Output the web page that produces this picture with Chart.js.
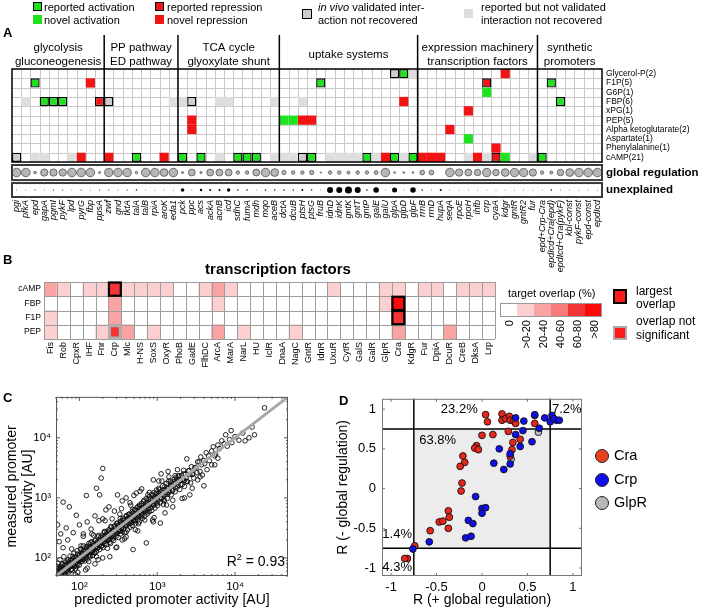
<!DOCTYPE html>
<html><head><meta charset="utf-8">
<script src="https://cdn.jsdelivr.net/npm/chart.js@4.4.1/dist/chart.umd.min.js"></script>
<style>
html,body{margin:0;padding:0;background:#fff;}
body{width:709px;height:611px;position:relative;overflow:hidden;font-family:'Liberation Sans',Arial,sans-serif;color:#000;}
canvas{position:absolute;}
.t{position:absolute;white-space:nowrap;line-height:12px;font-size:11px;}
.sq{position:absolute;box-sizing:border-box;}
.b{font-weight:bold;}
</style></head><body>
<script>
// ---------------- DATA ----------------
// Panel A
const genes = ['pgi','pfkA','epd','gapA','pgmI','pykF','lpd','pyrG','fbp','ppsA',
  'zwf','gnd','tktA','talA','talB','rpiA','aroK','eda1',
  'pck','ppc','acs','ackA','acnB','icd','sdhC','fumA','mdh','mqo','aceB',
  'dctA','dcuB','ptsH','ptsG','fruB','idnD','idnK','gntK','gntT','gntP','galE','galU','glpA','glpD','glpF',
  'rrnB','rrnD','hupA','seqA','rpoE','rpoH','ihfb','crp','cyaA','kdgr','gntR','gntR2','fur',
  'epd+Crp-Cra','epdIcd+Cra(epd)','epdIcd+Cra(pykF)','kbl-const','pykF-const','epd-const','epdIcd'];
const sectionNames = [['glycolysis','gluconeogenesis'],['PP pathway','ED pathway'],['TCA cycle','glyoxylate shunt'],['uptake systems'],['expression machinery','transcription factors'],['synthetic','promoters']];
const sectionSizes = [10, 8, 11, 15, 13, 7];
const metabolites = ['Glycerol-P(2)','F1P(5)','G6P(1)','FBP(6)','xPG(1)','PEP(5)','Alpha ketoglutarate(2)','Aspartate(1)','Phenylalanine(1)','cAMP(21)'];
const summaryRows = ['global regulation','unexplained'];
// [metabolite row, gene]
const reportedActivation = [[1,'epd'],[3,'gapA'],[3,'pgmI'],[3,'pykF'],[9,'talA'],[9,'pck'],[9,'acs'],[9,'sdhC'],[9,'fumA'],[9,'mdh'],[9,'ptsG'],[1,'fruB'],[9,'gntP'],[0,'glpD'],[9,'glpA'],[9,'glpF'],[1,'epdIcd+Cra(epd)'],[3,'epdIcd+Cra(pykF)'],[9,'epd+Crp-Cra']];
const novelActivation = [[5,'dctA'],[5,'dcuB'],[2,'crp'],[7,'rpoH'],[9,'kdgr']];
const reportedRepression = [[3,'ppsA'],[1,'crp'],[9,'cyaA']];
const novelRepression = [[1,'fbp'],[9,'pyrG'],[9,'zwf'],[9,'aroK'],[5,'ppc'],[6,'ppc'],[5,'ptsH'],[5,'ptsG'],[3,'glpD'],[9,'galU'],[9,'rrnB'],[9,'rrnD'],[9,'hupA'],[6,'seqA'],[4,'rpoH'],[9,'ihfb'],[8,'cyaA'],[0,'kdgr']];
const validatedNotRecovered = [[3,'zwf'],[3,'ppc'],[9,'pgi'],[9,'ptsH'],[0,'glpA']];
const reportedNotValidated = [[3,'pfkA'],[3,'eda1'],[3,'pck'],[3,'acnB'],[3,'icd'],[3,'aceB'],[3,'ptsH'],[9,'epd'],[9,'gapA'],[9,'lpd'],[9,'acnB'],[9,'aceB'],[9,'dctA'],[9,'dcuB'],[9,'idnD'],[9,'idnK'],[9,'gntK'],[9,'gntT'],[9,'galE'],[9,'glpD'],[0,'glpF'],[9,'rpoH'],[9,'crp'],[9,'fur']];
// relative size of global regulation contribution (0-1)
const globalRegulation = [1,1,.3,.85,.85,.85,1,1,1,.25, .95,1,.95,.3,1,1,.9,1, .25,.8,.25,.8,.8,.8,.4,.4,.8,1,.9, .5,.4,.4,.5,.15,.4,.4,.35,.4,.4,.45,1,.2,.2,.2, .55,.55,0,1,.85,.8,.75,.95,.75,.9,.95,.95,.85, .4,.35,.75,.9,1,1,1];
// unexplained part (relative dot size)
const unexplained = [.8,.8,1.2,.8,1.2,1.2,.8,1.2,.8,1.2, 1.2,.8,1.2,1.5,.8,.8,.8,.8, 3.5,.8,2.5,2,2,3.5,1.5,1.5,.8,1.5,1.5, 1.5,1.5,2,1.5,.8,6,6,7,6,1.5,5.5,.8,5,.8,5.5, 1.5,.8,2,.8,.8,.8,.8,.8,.8,.8,.8,.8,.8, .8,1.5,.8,.8,.8,.8,.8];

// Panel B
const tfs = ['Fis','Rob','CpxR','IHF','Fnr','Crp','Mlc','H-NS','SoxS','OxyR','PhoB','GadE','FlhDC','ArcA','MarA','NarL','HU','IclR','DnaA','NagC','GntR','IdnR','UxuR','CytR','GalS','GalR','GlpR','Cra','KdgR','Fur','DpiA','DcuR','CreB','DksA','Lrp'];
const tfRows = ['cAMP','FBP','F1P','PEP'];
// overlap class: 0 = 0, 1 = >0-20, 2 = 20-40, 3 = 40-60, 4 = 60-80, 5 = >80
const overlapCAMP = [2,1,0,1,1,4,1,1,1,1,0,0,1,2,1,0,0,0,0,0,0,0,1,0,0,0,1,1,0,1,1,0,1,1,1];
const overlapFBP  = [0,0,0,0,0,2,0,0,0,0,0,0,0,1,0,0,0,0,0,0,0,0,0,0,0,0,1,5,0,0,0,0,0,0,0];
const overlapF1P  = [1,0,0,0,0,2,0,0,0,0,0,0,0,0,0,0,0,0,0,0,0,0,0,0,0,0,0,4,0,0,0,0,0,0,0];
const overlapPEP  = [1,0,0,0,1,4,2,0,1,0,0,0,0,2,0,1,0,0,0,1,0,0,0,0,0,0,0,2,0,0,0,2,0,0,0];
const largestOverlap = [['cAMP','Crp'],['FBP','Cra'],['F1P','Cra']];
const overlapNotSignificant = [['PEP','Crp']];
const overlapClasses = ['0','>0-20','20-40','40-60','60-80','>80'];

// Panel C  [log10 predicted, log10 measured]
const promoterLog10 = [
[1.70,1.71],[1.70,1.78],[1.71,1.74],[1.71,1.86],[1.72,1.70],[1.72,1.80],[1.73,1.76],[1.73,1.91],[1.74,1.72],[1.74,1.83],[1.75,1.78],[1.75,1.97],[1.76,1.74],[1.76,1.86],[1.77,1.71],[1.77,1.81],[1.78,1.90],[1.78,1.76],[1.79,1.84],[1.79,1.73],[1.80,2.02],[1.80,1.79],[1.81,1.87],[1.81,1.74],[1.82,1.82],[1.82,1.93],
[1.83,1.78],[1.84,1.89],[1.84,1.80],[1.85,1.97],[1.86,1.84],[1.86,1.76],[1.87,1.92],[1.88,1.86],[1.88,2.03],[1.89,1.81],[1.90,1.95],[1.90,1.87],[1.91,1.79],[1.92,1.99],[1.92,1.90],[1.93,2.08],[1.94,1.86],[1.94,1.96],[1.95,1.82],[1.96,2.01],[1.96,1.93],[1.97,2.12],[1.98,1.89],[1.98,1.99],[1.99,1.95],[2.00,2.05],[2.00,1.88],[2.01,1.97],[2.02,2.15],[2.02,2.03],[2.03,1.94],[2.04,2.08],[2.05,1.99],[2.05,2.20],[2.06,2.04],[2.07,1.95],[2.07,2.11],[2.08,2.01],[2.09,2.16],[2.09,2.07],[2.10,1.98],[2.11,2.13],[2.12,2.05],[2.12,2.24],[2.13,2.10],[2.14,2.02],[2.14,2.18],[2.15,2.09],[2.16,2.27],[2.17,2.12],[2.17,2.04],[2.18,2.20],[2.19,2.15],[2.20,2.08],[2.20,2.29],[2.21,2.18],[2.22,2.11],[2.23,2.25],[2.23,2.17],[2.24,2.35],[2.25,2.21],[2.26,2.14],[2.26,2.28],[2.27,2.23],[2.28,2.19],[2.29,2.38],[2.29,2.26],[2.30,2.17],[2.31,2.33],[2.32,2.27],[2.32,2.44],[2.33,2.24],[2.34,2.31],[2.35,2.40],[2.35,2.22],[2.36,2.36],[2.37,2.30],[2.38,2.47],[2.38,2.33],[2.39,2.26],[2.40,2.42],[2.41,2.36],[2.41,2.51],[2.42,2.31],[2.43,2.45],[2.44,2.38],[2.44,2.29],[2.45,2.53],[2.46,2.43],[2.47,2.36],[2.47,2.49],[2.48,2.41],[2.49,2.58],[2.50,2.45],[2.50,2.34],[2.51,2.52],[2.52,2.47],[2.53,2.40],[2.53,2.61],[2.54,2.50],[2.55,2.44],[2.56,2.57],[2.56,2.66],[2.57,2.49],[2.58,2.42],[2.59,2.60],[2.59,2.53],[2.60,2.69],[2.61,2.55],[2.62,2.47],[2.62,2.64],[2.63,2.58],[2.64,2.73],[2.65,2.51],[2.65,2.62],[2.66,2.68],[2.67,2.59],[2.68,2.77],[2.68,2.54],[2.69,2.66],[2.70,2.62],[2.71,2.80],[2.71,2.70],[2.72,2.57],[2.73,2.67],[2.74,2.84],[2.74,2.75],[2.75,2.63],[2.76,2.71],[2.77,2.88],[2.77,2.60],[2.78,2.78],[2.79,2.69],[2.80,2.91],[2.80,2.74],[2.81,2.66],[2.82,2.83],[2.83,2.77],[2.83,2.96],[2.84,2.70],[2.85,2.86],[2.86,2.79],[2.86,2.99],[2.87,2.73],[2.88,2.90],[2.89,2.82],[2.90,2.77],[2.90,3.02],[2.91,2.93],[2.92,2.84],[2.93,3.06],[2.93,2.79],[2.94,2.97],[2.95,2.88],[2.96,3.09],[2.97,2.83],[2.97,2.99],[2.98,2.92],[2.99,3.13],[3.00,2.87],[3.00,3.03],[3.01,2.95],[3.02,3.16],[3.03,3.06],[3.04,2.92],[3.05,3.10],[3.06,2.99],[3.07,3.20],[3.08,3.04],[3.09,2.95],[3.10,3.14],[3.11,3.06],[3.12,3.24],[3.13,2.99],[3.14,3.17],[3.15,3.09],[3.17,3.28],[3.18,3.05],[3.19,3.21],[3.20,3.13],[3.22,3.31],[3.23,3.10],[3.24,3.25],[3.26,3.18],[3.27,3.36],[3.29,3.14],[3.30,3.29],[3.32,3.22],[3.34,3.40],[3.35,3.19],[3.37,3.33],[3.39,3.27],[3.41,3.45],[3.43,3.25],[3.45,3.39],[3.47,3.33],[3.50,3.51],[3.52,3.30],[3.55,3.44],[3.58,3.38],[3.61,3.57],[3.64,3.47],[3.67,3.62],[3.70,3.55],[3.74,3.70],[3.78,3.66],
[1.705,1.745],[1.715,1.665],[1.725,1.815],[1.735,1.745],[1.745,1.665],[1.755,1.815],[1.765,1.745],[1.775,1.895],[1.785,1.725],[1.795,1.825],[1.805,1.705],[1.815,1.885],[1.825,1.825],[1.835,1.795],[1.845,1.945],[1.855,1.785],[1.865,1.915],[1.875,1.865],[1.885,1.965],[1.895,1.805],[1.905,1.925],[1.915,2.025],[1.925,1.895],[1.935,1.875],[1.945,2.005],[1.955,1.965],[1.965,1.855],[1.975,2.065],[1.985,1.965],[1.995,2.035],[2.005,1.935],[2.015,2.145],[2.025,1.985],[2.035,2.065],[2.045,2.115],[2.055,1.975],[2.065,2.065],[2.075,2.125],[2.085,2.035],[2.095,2.195],
[2.105,2.095],[2.115,2.195],[2.125,2.035],[2.135,2.155],[2.145,2.255],[2.155,2.125],[2.165,2.105],[2.175,2.235],[2.185,2.195],[2.195,2.085],[2.205,2.295],[2.215,2.195],[2.225,2.265],[2.235,2.165],[2.245,2.375],[2.255,2.215],[2.265,2.295],[2.275,2.345],[2.285,2.205],[2.295,2.295],[2.305,2.355],[2.315,2.265],[2.325,2.425],[2.335,2.375],[2.345,2.295],[2.355,2.445],[2.365,2.375],[2.375,2.295],[2.385,2.445],[2.395,2.375],[2.405,2.525],[2.415,2.355],[2.425,2.455],[2.435,2.335],[2.445,2.515],[2.455,2.455],[2.465,2.425],[2.475,2.575],[2.485,2.415],[2.495,2.545],
[2.505,2.545],[2.515,2.445],[2.525,2.655],[2.535,2.495],[2.545,2.575],[2.555,2.625],[2.565,2.485],[2.575,2.575],[2.585,2.635],[2.595,2.545],[2.605,2.705],[2.615,2.655],[2.625,2.575],[2.635,2.725],[2.645,2.655],[2.655,2.575],[2.665,2.725],[2.675,2.655],[2.685,2.805],[2.695,2.635],[2.705,2.735],[2.715,2.615],[2.725,2.795],[2.735,2.735],[2.745,2.705],[2.755,2.855],[2.765,2.695],[2.775,2.825],[2.785,2.775],[2.795,2.875],[2.805,2.715],[2.815,2.835],[2.825,2.935],[2.835,2.805],[2.845,2.785],[2.855,2.915],[2.865,2.875],[2.875,2.765],[2.885,2.975],[2.895,2.875],
[2.907,2.977],[2.919,2.919],[2.931,2.891],[2.943,3.043],[2.955,2.885],[2.967,3.017],[2.979,2.969],[2.991,3.071],[3.003,2.913],[3.015,3.035],[3.027,3.137],[3.039,3.009],[3.051,2.991],[3.063,3.123],[3.075,3.085],[3.087,2.977],[3.099,3.189],[3.111,3.091],[3.123,3.163],[3.135,3.065],[3.147,3.277],[3.159,3.119],[3.171,3.201],[3.183,3.253],[3.195,3.115],[3.207,3.207],[3.219,3.269],[3.231,3.181],[3.243,3.343],[3.255,3.295],[3.267,3.217],[3.279,3.369],[3.291,3.301],[3.303,3.223],[3.315,3.375],[3.327,3.307],[3.339,3.459],[3.351,3.291],[3.363,3.393],[3.375,3.275],
[3.40,3.45],[3.42,3.39],[3.44,3.52],[3.46,3.40],[3.48,3.50],[3.51,3.42],[3.54,3.60],[3.57,3.55],
[1.90,2.15],[1.98,1.76],[2.05,2.36],[2.12,1.94],[2.18,2.38],[2.24,1.97],[2.30,2.65],[2.36,2.16],[2.42,2.65],[2.48,2.18],[2.54,2.82],[2.60,2.43],[2.66,2.88],[2.72,2.47],[2.78,3.11],[2.84,2.63],[2.90,3.09],[2.96,2.67],[3.02,3.28],[3.08,2.89],[3.14,3.44],[3.20,2.96],[3.26,3.47],[3.32,2.99],[3.38,3.65],
[1.95,1.72],[2.02,2.20],[2.08,1.80],[2.16,2.40],[2.22,2.02],[2.33,2.62],[2.40,2.24],[2.52,2.73],[2.58,2.32],[2.70,3.04],[2.76,2.57],[2.88,3.05],[2.94,2.63],[3.06,3.28],[3.12,2.88],
[3.52,3.60],[3.56,3.68],[3.60,3.62],[3.63,3.75],[3.66,3.70],[3.70,3.78],[3.72,3.85],[3.75,3.73],[3.78,3.88],[3.80,3.82],[3.83,3.95],[3.86,3.90],[3.88,4.05],[3.90,3.86],[3.93,3.97],[3.96,3.92],[4.00,4.02],[4.05,3.96],[4.10,4.08],[4.13,3.95],[4.18,4.00],[4.22,4.18],[4.25,4.05],[4.38,4.50],[3.95,4.12],[3.74,3.55],
[1.79,2.93],[1.87,2.85],[1.96,2.71],[2.09,3.04],[2.22,3.16],[2.26,3.05],[2.28,3.33],[2.30,3.49],[2.34,2.80],[1.83,2.50],[1.72,2.55],[1.74,2.27],[1.79,2.17],[1.76,2.40],[1.85,2.30],[1.92,2.42],[2.00,2.55],[2.05,2.40],[2.10,2.60],[2.15,2.48],[2.20,2.70],[2.25,2.62],[2.38,2.85],[2.45,2.78],[2.49,3.05],[2.60,3.00],[2.73,3.08],[2.55,2.95],[2.65,2.92],[2.80,3.15],[2.95,3.30],[3.05,3.40],[3.15,3.35],[3.23,3.37],
[2.39,2.02],[2.47,2.17],[2.69,2.14],[2.86,2.25],[3.04,2.58],[2.55,2.30],[2.75,2.45],[2.95,2.60],[3.20,2.85],[3.35,3.00],[3.45,3.16],[2.20,1.90],[2.30,2.00],[2.10,1.83],[2.60,2.35],[3.10,2.75],[3.60,3.20],[3.55,3.35],[3.42,3.05]
];
const identityLine = [50, 48000];
const cTickValues = [100, 1000, 10000];
const cTickLabels = ['10\u00B2','10\u00B3','10\u2074'];
const rSquared = 0.93;

// Panel D  [R(+global), R(-global)]
const craPoints = [[0.04,0.93],[0.06,0.84],[0.22,0.94],[0.22,0.86],[0.26,0.88],[0.30,0.91],[0.31,0.86],[0.35,0.85],[0.37,0.82],[0.58,0.92],[0.58,0.82],[0.29,0.72],[0.0,0.67],[0.12,0.68],[0.42,0.62],[0.34,0.58],[-0.06,0.54],[-0.08,0.51],[-0.04,0.49],[0.33,0.49],[0.31,0.41],[-0.21,0.41],[-0.19,0.33],[-0.24,0.28],[-0.22,0.07],[-0.23,-0.03],[-0.37,-0.28],[-0.36,-0.36],[-0.47,-0.42],[-0.43,-0.41],[-0.37,-0.50],[-0.57,-0.53],[-0.74,-0.72],[-0.82,-0.88],[-0.85,-0.88]];
const crpPoints = [[0.37,0.89],[0.46,0.85],[0.58,0.93],[0.69,0.89],[0.77,0.92],[0.75,0.84],[0.82,0.86],[0.79,0.88],[0.85,0.86],[0.63,0.76],[0.45,0.73],[0.37,0.68],[0.42,0.53],[0.55,0.59],[0.19,0.50],[0.31,0.44],[0.13,0.32],[0.24,0.24],[0.31,0.31],[-0.07,-0.10],[0.0,-0.25],[0.04,-0.24],[0.0,-0.31],[-0.15,-0.40],[-0.10,-0.44],[-0.18,-0.62],[-0.12,-0.60],[-0.58,-0.67],[-0.76,-0.76]];
const glpRPoints = [[0.62,0.71],[0.32,0.37]];
const dThresholds = [-0.75, 0.75];
const dTicks = [-1, -0.5, 0, 0.5, 1];
const quadrantShares = [23.2, 7.2, 63.8, 1.4, 4.3];

// ---------------- SETUP ----------------
const FONT = "'Liberation Sans', Arial, Helvetica, sans-serif";
Chart.defaults.font.family = FONT;
Chart.defaults.color = '#000';
Chart.defaults.animation = false;
Chart.defaults.events = [];
Chart.defaults.plugins.legend.display = false;
Chart.defaults.plugins.tooltip.enabled = false;

const GREEN = '#1fe21f', RED = '#f01414', GRAY_B = '#cdcdcd', GRAY_L = '#dedede';
const overlapColors = ['#ffffff','#fcd0d0','#f9a3a3','#f77b7b','#f23434','#fb0a0a'];

function makeCanvas(left, top, w, h) {
  const c = document.createElement('canvas');
  c.width = w; c.height = h;
  c.style.left = left + 'px'; c.style.top = top + 'px';
  c.style.width = w + 'px'; c.style.height = h + 'px';
  document.body.appendChild(c);
  return c;
}
function div(html, left, top, cls, style) {
  const d = document.createElement('div');
  d.className = cls || 't';
  d.innerHTML = html;
  d.style.left = left + 'px'; d.style.top = top + 'px';
  if (style) Object.assign(d.style, style);
  document.body.appendChild(d);
  return d;
}
function line(ctx, x1, y1, x2, y2) { ctx.beginPath(); ctx.moveTo(x1, y1); ctx.lineTo(x2, y2); ctx.stroke(); }

// ---------------- PANEL A ----------------
const A_ROWS = metabolites.length;
const A_YMAX = 13.76;
const GLOBAL_BOX = [10.32, 11.94], UNEXPL_BOX = [12.26, 13.76];
const GLOBAL_Y = 11.13, UNEXPL_Y = 13.01;

const cellStyles = [
  {cells: reportedNotValidated, bg: GRAY_L, bw: 0},
  {cells: validatedNotRecovered, bg: GRAY_B, bw: 1.4},
  {cells: novelActivation, bg: GREEN, bw: 0},
  {cells: novelRepression, bg: RED, bw: 0},
  {cells: reportedActivation, bg: GREEN, bw: 1.4},
  {cells: reportedRepression, bg: RED, bw: 1.4}
];
const aDatasets = cellStyles.map(s => ({
  type: 'bar',
  data: s.cells.map(([r, g]) => ({x: g, y: [r, r + 1]})),
  backgroundColor: s.bg,
  borderColor: s.bw ? '#000' : s.bg,
  borderWidth: s.bw,
  borderSkipped: false,
  grouped: false,
  categoryPercentage: 1,
  barPercentage: 1,
  inflateAmount: 0
}));
aDatasets.push({
  type: 'bubble',
  data: globalRegulation.map((v, i) => ({x: genes[i], y: GLOBAL_Y, r: v * 4.3})),
  backgroundColor: '#b6b6b6', borderColor: '#505050', borderWidth: 0.8
});
aDatasets.push({
  type: 'bubble',
  data: unexplained.map((v, i) => ({x: genes[i], y: UNEXPL_Y, r: v / 2})),
  backgroundColor: '#000', borderColor: '#000', borderWidth: 0
});

const matrixA = {
  id: 'matrixA',
  beforeDatasetsDraw(chart) {
    const {ctx, scales: {x, y}} = chart;
    const w = x.getPixelForValue(1) - x.getPixelForValue(0);
    const top = y.getPixelForValue(0), bot = y.getPixelForValue(A_ROWS);
    ctx.save();
    ctx.strokeStyle = '#c9c9c9'; ctx.lineWidth = 1;
    for (let i = 1; i < genes.length; i++) {
      const px = Math.round(x.getPixelForValue(i) - w / 2) + 0.5;
      line(ctx, px, top, px, bot);
    }
    for (let r = 1; r < A_ROWS; r++) {
      const py = Math.round(y.getPixelForValue(r)) + 0.5;
      line(ctx, x.left, py, x.right, py);
    }
    ctx.restore();
  },
  afterDatasetsDraw(chart) {
    const {ctx, scales: {x, y}} = chart;
    const w = x.getPixelForValue(1) - x.getPixelForValue(0);
    const colLeft = i => x.getPixelForValue(0) - w / 2 + i * w;
    const top = y.getPixelForValue(0), bot = y.getPixelForValue(A_ROWS);
    ctx.save();
    ctx.strokeStyle = '#000'; ctx.lineWidth = 1.5;
    ctx.strokeRect(x.left, top, x.right - x.left, bot - top);
    let cum = 0;
    ctx.font = '11.5px ' + FONT; ctx.textAlign = 'center'; ctx.textBaseline = 'middle'; ctx.fillStyle = '#000';
    sectionSizes.forEach((n, si) => {
      const l = colLeft(cum); cum += n; const r = colLeft(cum);
      if (si < sectionSizes.length - 1) line(ctx, r, 35, r, bot);
      const names = sectionNames[si];
      const cx = (l + r) / 2;
      if (names.length === 2) { ctx.fillText(names[0], cx, 48); ctx.fillText(names[1], cx, 61.5); }
      else ctx.fillText(names[0], cx, 54.5);
    });
    ctx.strokeStyle = '#3a3a3a'; ctx.lineWidth = 2;
    [GLOBAL_BOX, UNEXPL_BOX].forEach(b => {
      const t = y.getPixelForValue(b[0]), bb = y.getPixelForValue(b[1]);
      ctx.strokeRect(x.left, t, x.right - x.left, bb - t);
    });
    ctx.restore();
  }
};

const rowTickPos = metabolites.map((m, i) => i + 0.5).concat([GLOBAL_Y, UNEXPL_Y]);
const rowTickText = metabolites.concat(summaryRows);

new Chart(makeCanvas(0, 0, 709, 272), {
  type: 'bar',
  data: {labels: genes, datasets: aDatasets},
  options: {
    responsive: false, devicePixelRatio: 1,
    layout: {padding: {left: 12, top: 69, right: 0, bottom: 0}},
    scales: {
      x: {type: 'category', offset: true,
        grid: {display: false, drawTicks: false}, border: {display: false},
        ticks: {autoSkip: false, minRotation: 90, maxRotation: 90, padding: 3,
          font: {size: 9, style: 'italic'}, color: '#000'},
        afterFit: s => { s.height = 75; }},
      y: {type: 'linear', position: 'right', reverse: true, min: 0, max: A_YMAX,
        grid: {display: false, drawTicks: false}, border: {display: false},
        afterBuildTicks: s => { s.ticks = rowTickPos.map(v => ({value: v})); },
        ticks: {autoSkip: false, padding: 4, color: '#000',
          callback: (v, i) => rowTickText[i],
          font: c => c.index >= A_ROWS ? {size: 11.5, weight: 'bold', family: FONT} : {size: 8.5, family: FONT}},
        afterFit: s => { s.width = 107; }}
    }
  },
  plugins: [matrixA]
});

// legend of panel A
const leg = [
  {l: 33, t: 2, s: 9, bg: GREEN, b: '1.5px solid #000', txt: 'reported activation', tl: 44, tt: 1},
  {l: 33, t: 15, s: 9, bg: GREEN, b: 'none', txt: 'novel activation', tl: 44, tt: 14},
  {l: 155, t: 2, s: 9, bg: RED, b: '1.5px solid #000', txt: 'reported repression', tl: 167, tt: 1},
  {l: 155, t: 15, s: 9, bg: RED, b: 'none', txt: 'novel repression', tl: 167, tt: 14}
];
leg.forEach(o => {
  div('', o.l, o.t, 'sq', {width: o.s + 'px', height: o.s + 'px', background: o.bg, border: o.b});
  div(o.txt, o.tl, o.tt);
});
div('', 302, 9, 'sq', {width: '10px', height: '10px', background: GRAY_B, border: '1.5px solid #000'});
div('<i>in vivo</i> validated inter-', 318, 1);
div('action not recovered', 318, 14);
div('', 464, 9, 'sq', {width: '9px', height: '9px', background: GRAY_L});
div('reported but not validated', 481, 1);
div('interaction not recovered', 481, 14);
div('A', 3, 26, 't b', {fontSize: '13px', lineHeight: '14px'});

// ---------------- PANEL B ----------------
const overlapMatrix = [overlapCAMP, overlapFBP, overlapF1P, overlapPEP];
const bCells = [];
overlapMatrix.forEach((row, r) => row.forEach((lv, k) => { if (lv > 0) bCells.push({x: tfs[k], y: [r, r + 1], level: lv}); }));

const matrixB = {
  id: 'matrixB',
  afterDatasetsDraw(chart) {
    const {ctx, scales: {x, y}} = chart;
    const w = x.getPixelForValue(1) - x.getPixelForValue(0);
    const colLeft = i => x.getPixelForValue(0) - w / 2 + i * w;
    ctx.save();
    ctx.strokeStyle = '#9c9c9c'; ctx.lineWidth = 1;
    const top = y.getPixelForValue(0), bot = y.getPixelForValue(tfRows.length);
    for (let i = 0; i <= tfs.length; i++) { const px = Math.round(colLeft(i)) + 0.5; line(ctx, px, top, px, bot); }
    for (let r = 0; r <= tfRows.length; r++) { const py = Math.round(y.getPixelForValue(r)) + 0.5; line(ctx, x.left, py, x.right, py); }
    const rectOf = ([row, tf]) => {
      const k = tfs.indexOf(tf), r = tfRows.indexOf(row);
      return [colLeft(k), y.getPixelForValue(r), w, y.getPixelForValue(r + 1) - y.getPixelForValue(r)];
    };
    ctx.strokeStyle = '#b0b0b0'; ctx.lineWidth = 3;
    overlapNotSignificant.forEach(c => { const [a, b, cw, ch] = rectOf(c); ctx.strokeRect(a + 1, b + 1, cw - 2, ch - 2); });
    ctx.strokeStyle = '#000'; ctx.lineWidth = 2.2;
    largestOverlap.forEach(c => { const [a, b, cw, ch] = rectOf(c); ctx.strokeRect(a + 0.5, b + 0.5, cw - 1, ch - 1); });
    ctx.restore();
  }
};

new Chart(makeCanvas(0, 272, 709, 100), {
  type: 'bar',
  data: {labels: tfs, datasets: [{
    data: bCells,
    backgroundColor: c => overlapColors[c.raw ? c.raw.level : 0],
    borderWidth: 0, borderSkipped: false, grouped: false,
    categoryPercentage: 1, barPercentage: 1, inflateAmount: 0.3
  }]},
  options: {
    responsive: false, devicePixelRatio: 1,
    layout: {padding: {left: 0, top: 10, right: 214, bottom: 0}},
    scales: {
      x: {type: 'category', offset: true, grid: {display: false, drawTicks: false}, border: {display: false},
        ticks: {autoSkip: false, minRotation: 90, maxRotation: 90, padding: 3, font: {size: 9}, color: '#000'},
        afterFit: s => { s.height = 33; }},
      y: {type: 'linear', reverse: true, min: 0, max: tfRows.length,
        grid: {display: false, drawTicks: false}, border: {display: false},
        afterBuildTicks: s => { s.ticks = tfRows.map((t, i) => ({value: i + 0.5})); },
        ticks: {autoSkip: false, padding: 3, font: {size: 8.5}, color: '#000', callback: (v, i) => tfRows[i]},
        afterFit: s => { s.width = 44; }}
    }
  },
  plugins: [matrixB]
});
div('B', 3, 253, 't b', {fontSize: '13px', lineHeight: '14px'});
div('transcription factors', 278, 260, 't b', {fontSize: '15px', lineHeight: '18px', transform: 'translateX(-50%)'});
div('target overlap (%)', 508, 287, 't', {fontSize: '11px'});
overlapColors.forEach((c, i) => {
  div('', 500 + 17 * i, 303, 'sq', {width: '17px', height: '14px', background: c});
  const lab = div(overlapClasses[i], 0, 0, 't', {fontSize: '11px', width: '40px', textAlign: 'right', transformOrigin: '100% 50%', transform: 'rotate(-90deg)'});
  lab.style.left = (508.5 + 17 * i - 40) + 'px'; lab.style.top = (320 - 6) + 'px';
});
div('', 500, 303, 'sq', {width: '102px', height: '14px', border: '1px solid #9a9a9a'});
div('', 613, 289, 'sq', {width: '14px', height: '15px', background: '#ff1a1a', border: '2px solid #000'});
div('largest', 636, 285, 't', {fontSize: '12px', lineHeight: '13px'});
div('overlap', 636, 298, 't', {fontSize: '12px', lineHeight: '13px'});
div('', 613, 326, 'sq', {width: '14px', height: '14px', background: '#ff1a1a', border: '2px solid #aaa'});
div('overlap not', 636, 315, 't', {fontSize: '12px', lineHeight: '13px'});
div('significant', 636, 329, 't', {fontSize: '12px', lineHeight: '13px'});

// ---------------- PANEL C ----------------
const boxTicksC = {
  id: 'boxTicksC',
  afterDatasetsDraw(chart) {
    const {ctx, chartArea: a, scales: {x, y}} = chart;
    ctx.save();
    ctx.strokeStyle = '#555'; ctx.lineWidth = 1;
    ctx.strokeRect(a.left + 0.5, a.top + 0.5, a.right - a.left - 1, a.bottom - a.top - 1);
    for (let e = 1; e <= 4; e++) for (let m = 1; m <= 9; m++) {
      const v = m * Math.pow(10, e), len = m === 1 ? 4 : 2;
      if (v >= x.min && v <= x.max) { const px = x.getPixelForValue(v); line(ctx, px, a.bottom, px, a.bottom - len); line(ctx, px, a.top, px, a.top + len); }
      if (v >= y.min && v <= y.max) { const py = y.getPixelForValue(v); line(ctx, a.left, py, a.left + len, py); line(ctx, a.right, py, a.right - len, py); }
    }
    ctx.restore();
  }
};
new Chart(makeCanvas(0, 385, 330, 226), {
  type: 'scatter',
  data: {datasets: [
    {type: 'line', data: identityLine.map(v => ({x: v, y: v})), borderColor: '#a8a8a8', borderWidth: 3, pointRadius: 0, order: 0},
    {data: promoterLog10.map(([p, m]) => ({x: Math.pow(10, p), y: Math.pow(10, m)})),
      pointRadius: 2.3, borderWidth: 0.9, borderColor: '#0d0d0d', backgroundColor: 'rgba(0,0,0,0)', order: 1}
  ]},
  options: {
    responsive: false, devicePixelRatio: 1,
    layout: {padding: {left: 0, top: 11, right: 42, bottom: 0}},
    scales: {
      x: {type: 'logarithmic', min: identityLine[0], max: identityLine[1],
        grid: {display: false, drawTicks: false}, border: {display: false},
        afterBuildTicks: s => { s.ticks = cTickValues.map(v => ({value: v})); },
        ticks: {padding: 4, font: {size: 11.5}, color: '#000', callback: (v, i) => cTickLabels[i]},
        title: {display: true, text: 'predicted promoter activity [AU]', font: {size: 14}, padding: {top: 0, bottom: 2}, color: '#000'},
        afterFit: s => { s.height = 35; }},
      y: {type: 'logarithmic', min: identityLine[0], max: identityLine[1],
        grid: {display: false, drawTicks: false}, border: {display: false},
        afterBuildTicks: s => { s.ticks = cTickValues.map(v => ({value: v})); },
        ticks: {padding: 5, font: {size: 11.5}, color: '#000', callback: (v, i) => cTickLabels[i]},
        title: {display: true, text: ['measured promoter', 'activity [AU]'], font: {size: 14, lineHeight: 1.14}, padding: {top: 4, bottom: 0}, color: '#000'},
        afterFit: s => { s.width = 56; }}
    }
  },
  plugins: [boxTicksC]
});
div('C', 3, 391, 't b', {fontSize: '13px', lineHeight: '14px'});
div('R<sup style="font-size:9px">2</sup> = ' + rSquared.toFixed(2), 0, 549, 't', {fontSize: '14px', lineHeight: '16px', right: '424px', left: 'auto'});

// ---------------- PANEL D ----------------
const quadLabelPos = [
  {x: -0.25, y: 1.0, align: 'center'},
  {x: 0.77, y: 1.0, align: 'left'},
  {x: -0.69, y: 0.61, align: 'left'},
  {x: -0.77, y: -0.58, align: 'right'},
  {x: -0.77, y: -0.99, align: 'right'}
];
const regionsD = {
  id: 'regionsD',
  beforeDatasetsDraw(chart) {
    const {ctx, chartArea: a, scales: {x, y}} = chart;
    const [lo, hi] = dThresholds;
    ctx.save();
    ctx.fillStyle = '#ececec';
    const x1 = x.getPixelForValue(lo), x2 = x.getPixelForValue(hi), y1 = y.getPixelForValue(hi), y2 = y.getPixelForValue(lo);
    ctx.fillRect(x1, y1, x2 - x1, y2 - y1);
    ctx.strokeStyle = '#000'; ctx.lineWidth = 1.5;
    dThresholds.forEach(t => {
      const px = x.getPixelForValue(t); line(ctx, px, a.top, px, a.bottom);
      const py = y.getPixelForValue(t); line(ctx, a.left, py, a.right, py);
    });
    ctx.restore();
  },
  afterDatasetsDraw(chart) {
    const {ctx, chartArea: a, scales: {x, y}} = chart;
    ctx.save();
    ctx.strokeStyle = '#777'; ctx.lineWidth = 1;
    ctx.strokeRect(a.left + 0.5, a.top + 0.5, a.right - a.left - 1, a.bottom - a.top - 1);
    dTicks.forEach(v => {
      const px = x.getPixelForValue(v); line(ctx, px, a.bottom, px, a.bottom - 3); line(ctx, px, a.top, px, a.top + 3);
      const py = y.getPixelForValue(v); line(ctx, a.left, py, a.left + 3, py); line(ctx, a.right, py, a.right - 3, py);
    });
    ctx.fillStyle = '#000'; ctx.font = '13px ' + FONT; ctx.textBaseline = 'middle';
    quadrantShares.forEach((s, i) => {
      const p = quadLabelPos[i];
      ctx.textAlign = p.align;
      ctx.fillText(s.toFixed(1) + '%', x.getPixelForValue(p.x), y.getPixelForValue(p.y));
    });
    ctx.restore();
  }
};
const toXY = arr => arr.map(([a, b]) => ({x: a, y: b}));
new Chart(makeCanvas(330, 385, 379, 226), {
  type: 'scatter',
  data: {datasets: [
    {data: toXY(crpPoints), backgroundColor: '#0f0fe6', borderColor: '#111', borderWidth: 0.9, pointRadius: 3.4},
    {data: toXY(craPoints), backgroundColor: '#e8261c', borderColor: '#111', borderWidth: 0.9, pointRadius: 3.4},
    {data: toXY(glpRPoints), backgroundColor: '#bdbdbd', borderColor: '#111', borderWidth: 0.9, pointRadius: 3.4}
  ]},
  options: {
    responsive: false, devicePixelRatio: 1,
    layout: {padding: {left: 0, top: 11, right: 127, bottom: 0}},
    scales: {
      x: {type: 'linear', min: -1.1, max: 1.1, grid: {display: false, drawTicks: false}, border: {display: false},
        afterBuildTicks: s => { s.ticks = dTicks.map(v => ({value: v})); },
        ticks: {padding: 4, font: {size: 13}, color: '#000', callback: v => String(v)},
        title: {display: true, text: 'R (+ global regulation)', font: {size: 14}, padding: {top: 0, bottom: 2}, color: '#000'},
        afterFit: s => { s.height = 35; }},
      y: {type: 'linear', min: -1.1, max: 1.13, grid: {display: false, drawTicks: false}, border: {display: false},
        afterBuildTicks: s => { s.ticks = dTicks.map(v => ({value: v})); },
        ticks: {padding: 6, font: {size: 13}, color: '#000', callback: v => String(v)},
        title: {display: true, text: 'R (- global regulation)', font: {size: 14}, padding: {top: 5, bottom: 0}, color: '#000'},
        afterFit: s => { s.width = 52; }}
    }
  },
  plugins: [regionsD]
});
div('D', 339, 394, 't b', {fontSize: '13px', lineHeight: '14px'});
[['Cra', '#e8401e', 456], ['Crp', '#1010ee', 480], ['GlpR', '#b8b8b8', 503]].forEach(([n, c, yc]) => {
  div('', 595, yc - 7, 'sq', {width: '14px', height: '14px', borderRadius: '50%', background: c, border: '1.5px solid #222'});
  div(n, 614, yc - 9, 't', {fontSize: '14.5px', lineHeight: '17px'});
});
</script>
</body></html>
